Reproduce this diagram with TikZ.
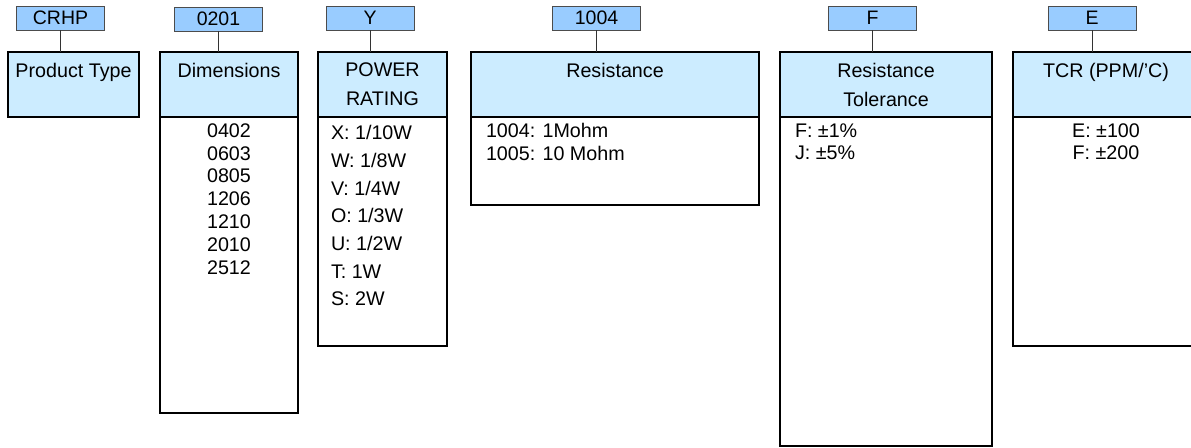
\documentclass[tikz,border=0pt]{standalone}
\usepackage{fontspec}
\setmainfont{Liberation Sans}
\usetikzlibrary{positioning}
\definecolor{codeblue}{RGB}{153,204,255}
\definecolor{headblue}{RGB}{204,236,255}
\tikzset{
 codebox/.style={draw=black!70,fill=codeblue,line width=0.8pt,minimum width=88pt,minimum height=24pt,inner sep=0pt,outer sep=0pt,font=\fontsize{19.5}{20}\selectfont},
 headbox/.style={draw,fill=headblue,line width=1.6pt,minimum height=65pt,inner sep=0pt,outer sep=0pt,align=center,font=\fontsize{19.7}{29}\selectfont},
 bodybox/.style={draw,line width=1.6pt,inner sep=0pt,outer sep=0pt},
 listtext/.style={inner sep=0pt,outer sep=0pt,align=#1},
 link/.style={draw=black!80,line width=1pt}
}
\begin{document}
\begin{tikzpicture}[x=1pt,y=-1pt]
 \useasboundingbox (0,0) rectangle (1191,447);
 \node[codebox] (crhp) at (60.5,18) {CRHP};
 \node[codebox] (size) at (218.5,19) {\raisebox{-5pt}{0201}};
 \node[codebox] (power) at (370,18) {Y};
 \node[codebox] (value) at (596.5,18) {1004};
 \node[codebox] (tol) at (872.5,18) {F};
 \node[codebox] (tcr) at (1092,18) {E};
 \node[headbox,minimum width=131pt,anchor=north west] (ptypehead) at (8,52) {Product Type\\ \mbox{}};
 \node[headbox,minimum width=138pt,anchor=north west] (sizehead) at (160,52) {Dimensions\\ \mbox{}};
 \node[headbox,minimum width=129pt,anchor=north west] (powerhead) at (318,52) {POWER\\RATING};
 \node[headbox,minimum width=288pt,anchor=north west] (valuehead) at (471,52) {Resistance\\ \mbox{}};
 \node[headbox,minimum width=212pt,anchor=north west] (tolhead) at (780,52) {Resistance\\Tolerance};
 \node[headbox,minimum width=186pt,anchor=north west] (tcrhead) at (1013,52) {TCR (PPM/'C)\\ \mbox{}};
 \node[bodybox,minimum width=138pt,minimum height=296pt,below=0pt of sizehead] (sizebody) {};
 \node[bodybox,minimum width=129pt,minimum height=229pt,below=0pt of powerhead] (powerbody) {};
 \node[bodybox,minimum width=288pt,minimum height=88pt,below=0pt of valuehead] (valuebody) {};
 \node[bodybox,minimum width=212pt,minimum height=329pt,below=0pt of tolhead] (tolbody) {};
 \node[bodybox,minimum width=186pt,minimum height=229pt,below=0pt of tcrhead] (tcrbody) {};
 \node[listtext=center,font=\fontsize{19.7}{22.8}\selectfont,below=6.5pt of sizebody.north] (sizelist) {0402\\0603\\0805\\1206\\1210\\2010\\2512};
 \node[listtext=left,font=\fontsize{19.7}{27.7}\selectfont,anchor=north west,below right=8.5pt and 13pt of powerbody.north west] (powerlist) {X: 1/10W\\W: 1/8W\\V: 1/4W\\O: 1/3W\\U: 1/2W\\T: 1W\\S: 2W};
 \node[listtext=left,font=\fontsize{19.7}{22.5}\selectfont,anchor=north west,below right=6.5pt and 15pt of valuebody.north west] (valuelist) {1004: 1Mohm\\1005: 10 Mohm};
 \node[listtext=left,font=\fontsize{19.7}{22.5}\selectfont,anchor=north west,below right=6.5pt and 15pt of tolbody.north west] (tollist) {F: ±1\%\\J: ±5\%};
 \node[listtext=center,font=\fontsize{19.7}{22.5}\selectfont,below=6.5pt of tcrbody.north] (tcrlist) {E: ±100\\F: ±200};
 \draw[link] (crhp.south) -- (crhp.south |- ptypehead.north);
 \draw[link] (size.south) -- (size.south |- sizehead.north);
 \draw[link] (power.south) -- (power.south |- powerhead.north);
 \draw[link] (value.south) -- (value.south |- valuehead.north);
 \draw[link] (tol.south) -- (tol.south |- tolhead.north);
 \draw[link] (tcr.south) -- (tcr.south |- tcrhead.north);
\end{tikzpicture}
\end{document}
